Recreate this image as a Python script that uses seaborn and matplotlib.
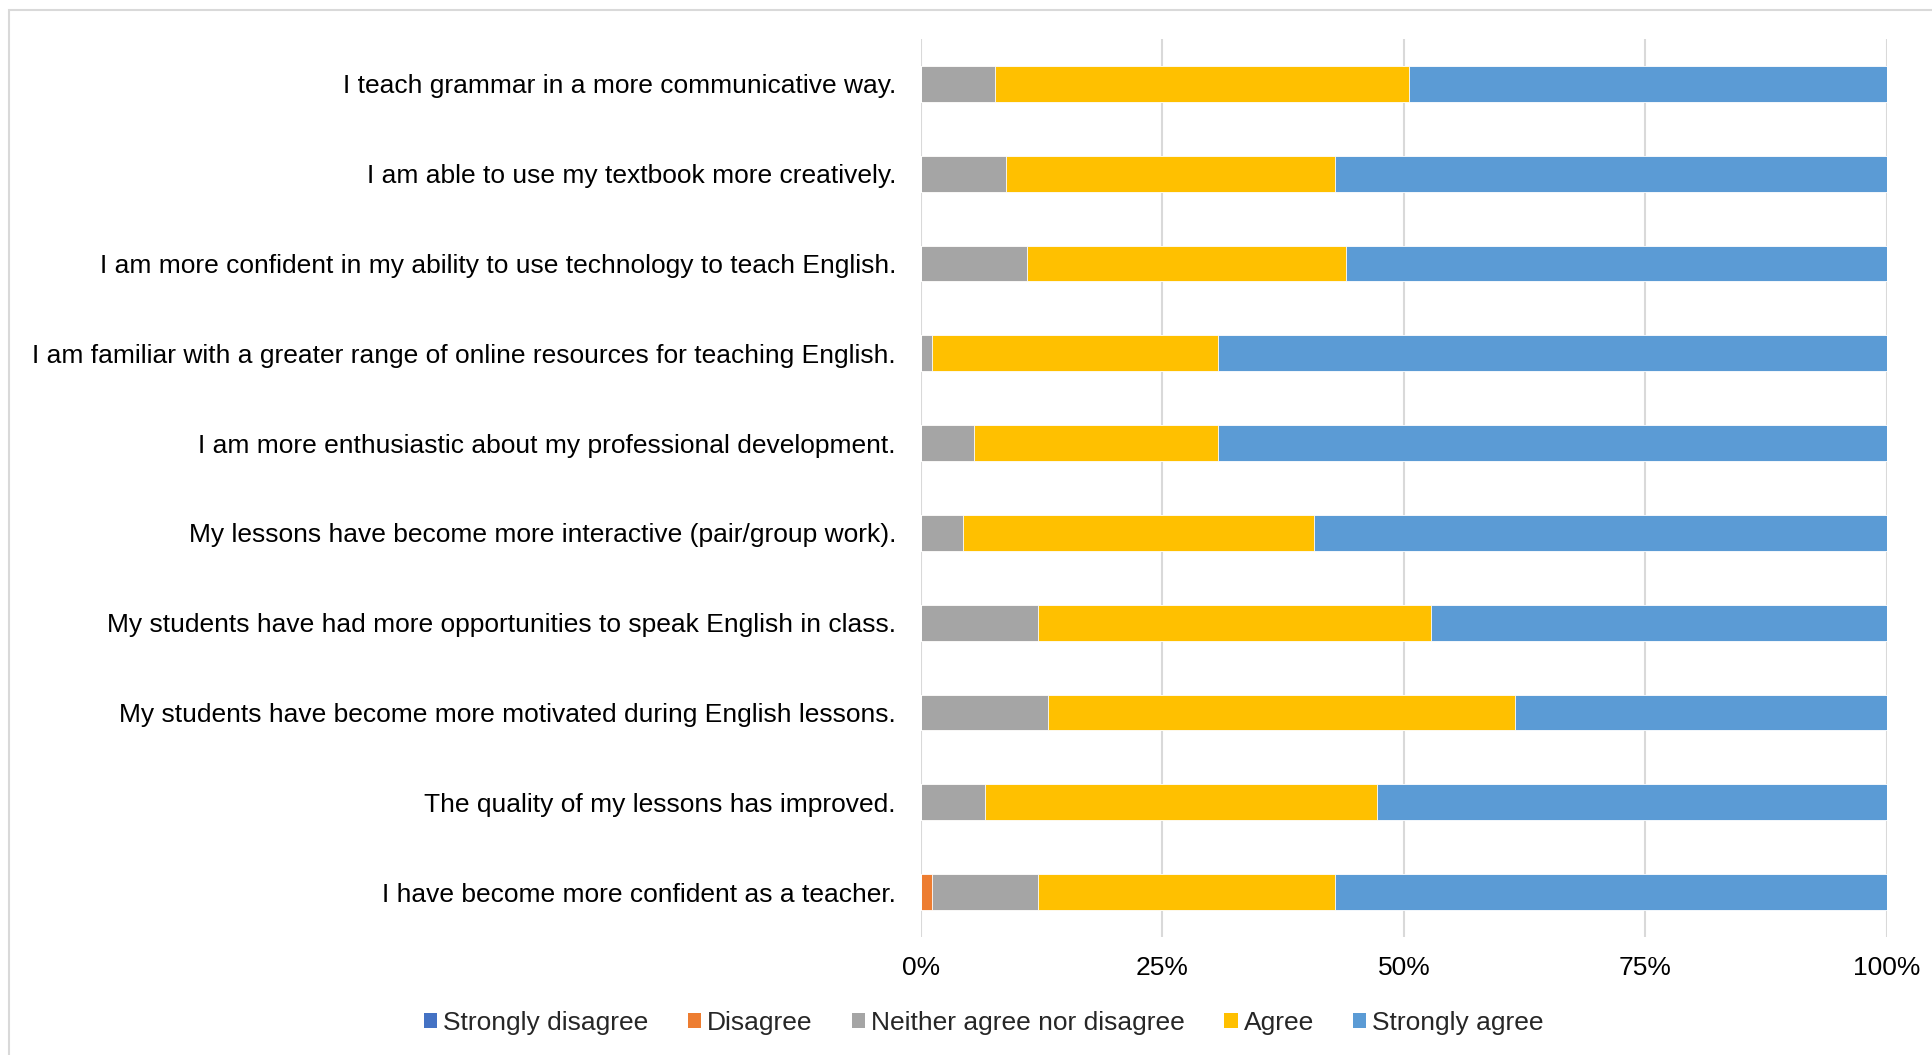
import matplotlib
matplotlib.use("Agg")
import matplotlib.pyplot as plt
import seaborn as sns
import pandas as pd
import numpy as np
from matplotlib.patches import Rectangle, Patch

sns.set_theme(style="white")
plt.rcParams['font.family'] = ['Liberation Sans', 'DejaVu Sans']

statements = [
    "I teach grammar in a more communicative way.",
    "I am able to use my textbook more creatively.",
    "I am more confident in my ability to use technology to teach English.",
    "I am familiar with a greater range of online resources for teaching English.",
    "I am more enthusiastic about my professional development.",
    "My lessons have become more interactive (pair/group work).",
    "My students have had more opportunities to speak English in class.",
    "My students have become more motivated during English lessons.",
    "The quality of my lessons has improved.",
    "I have become more confident as a teacher.",
]
# response counts (n = 91 respondents)
strongly_disagree = [0, 0, 0, 0, 0, 0, 0, 0, 0, 0]
disagree          = [0, 0, 0, 0, 0, 0, 0, 0, 0, 1]
neither           = [7, 8, 10, 1, 5, 4, 11, 12, 6, 10]
agree             = [39, 31, 30, 27, 23, 33, 37, 44, 37, 28]
strongly_agree    = [45, 52, 51, 63, 63, 54, 43, 35, 48, 52]

series_names = ["Strongly disagree", "Disagree", "Neither agree nor disagree",
                "Agree", "Strongly agree"]
colors = ["#4472C4", "#ED7D31", "#A5A5A5", "#FFC000", "#5B9BD5"]
xticks = [0, 25, 50, 75, 100]
xtick_labels = ["0%", "25%", "50%", "75%", "100%"]

counts = pd.DataFrame(
    {n: v for n, v in zip(series_names,
                          [strongly_disagree, disagree, neither, agree, strongly_agree])},
    index=statements)
pct = counts.div(counts.sum(axis=1), axis=0) * 100
cum = pct.cumsum(axis=1)

W, H = 1933, 1055
FS = 19
fig = plt.figure(figsize=(W / 100, H / 100), dpi=100)
fig.patches.append(Rectangle((9 / W, -0.1), 1.2, 1 - 10 / H + 0.1,
                             transform=fig.transFigure, fill=False,
                             edgecolor="#d9d9d9", linewidth=1.5, zorder=0))

left, right = 921 / W, 1887 / W
bottom, top = 1 - 937 / H, 1 - 39 / H
ax = fig.add_axes([left, bottom, right - left, top - bottom])

# draw stacked bars from rightmost (cumulative) to leftmost so earlier segments overlay
for name, col in zip(reversed(series_names), reversed(colors)):
    d = pd.DataFrame({"statement": statements, "value": cum[name].values})
    sns.barplot(data=d, x="value", y="statement", orient="h", color=col,
                width=0.4, ax=ax, saturation=1, edgecolor="white", linewidth=0.6,
                zorder=3)

ax.set_xlim(0, 100)
ax.set_xticks(xticks)
ax.set_xticklabels(xtick_labels, fontsize=FS)
ax.xaxis.grid(True, color="#d9d9d9", linewidth=1.5)
ax.set_axisbelow(True)
for s in ax.spines.values():
    s.set_visible(False)
ax.set_xlabel("")
ax.set_ylabel("")
ax.tick_params(axis="y", length=0, pad=18, labelsize=FS)
ax.tick_params(axis="x", length=0, pad=14)
for lab in ax.get_yticklabels() + ax.get_xticklabels():
    lab.set_color("#000000")

handles = [Patch(facecolor=c, edgecolor="none") for c in colors]
fig.legend(handles, series_names, loc="center", bbox_to_anchor=(984 / W, 1 - 1023 / H),
           ncol=5, frameon=False, fontsize=FS, handlelength=0.5, handleheight=0.5,
           handletextpad=0.22, columnspacing=1.5)

fig.savefig("out.png", dpi=100)
